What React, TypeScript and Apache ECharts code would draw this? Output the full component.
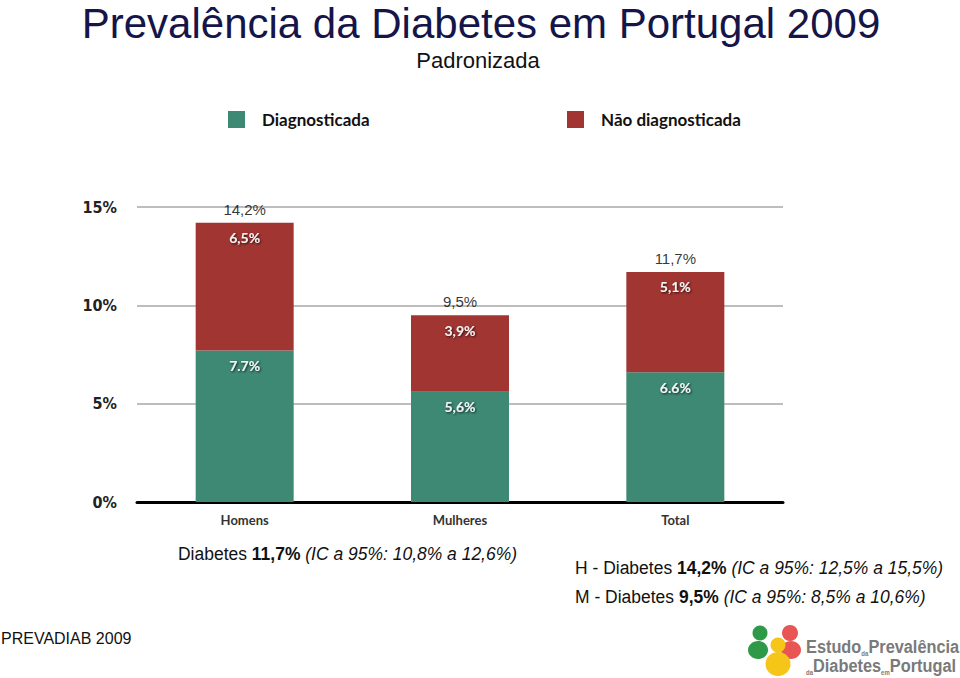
import React, { useEffect, useRef } from "react";
import * as echarts from "echarts";

const categories = ["Homens", "Mulheres", "Total"];
const diagnosticada = [7.7, 5.6, 6.6];
const naoDiagnosticada = [6.5, 3.9, 5.1];
const totals = [14.2, 9.5, 11.7];
const diagLabels = ["7.7%", "5,6%", "6.6%"];
const naoLabels = ["6,5%", "3,9%", "5,1%"];
const totalLabels = ["14,2%", "9,5%", "11,7%"];
const yTicks = [0, 5, 10, 15];

const GREEN = "#3d8973";
const RED = "#a13532";
const ARIAL = "'Liberation Sans', Arial, sans-serif";
const HUMAN = "Lato, 'Open Sans', sans-serif";

const infoRich = {
  n: { fontFamily: ARIAL, fontSize: 19, fill: "#111" },
  b: { fontFamily: ARIAL, fontSize: 19, fontWeight: "bold", fill: "#111" },
  i: { fontFamily: ARIAL, fontSize: 19, fontStyle: "italic", fill: "#111" },
};
const logoRich = {
  L: { fontFamily: ARIAL, fontSize: 19, fontWeight: "bold", fill: "#7a7a7a", verticalAlign: "bottom" },
  s: { fontFamily: ARIAL, fontSize: 7, fontWeight: "bold", fill: "#7a7a7a", verticalAlign: "bottom" },
};

export default function App() {
  const ref = useRef<HTMLDivElement>(null);
  useEffect(() => {
    if (!ref.current) return;
    const chart = echarts.init(ref.current, null, { renderer: "svg" });
    const innerLabel = (labels: string[]) => ({
      show: true,
      position: "insideTop",
      distance: 8,
      color: "#f4f4f4",
      fontFamily: HUMAN,
      fontWeight: "bold",
      fontSize: 14,
      textShadowColor: "rgba(0,0,0,0.75)",
      textShadowBlur: 2,
      textShadowOffsetX: 1,
      textShadowOffsetY: 1,
      formatter: (p: any) => labels[p.dataIndex],
    });
    const legendText = { fontFamily: HUMAN, fontWeight: "bold", fontSize: 17, color: "#111", padding: [0, 0, 0, 12] };
    chart.setOption({
      animation: false,
      backgroundColor: "#ffffff",
      legend: [
        { left: 228, top: 111, padding: 0, itemWidth: 17, itemHeight: 17, icon: "rect", data: ["Diagnosticada"], textStyle: legendText },
        { left: 567, top: 111, padding: 0, itemWidth: 17, itemHeight: 17, icon: "rect", data: ["Não diagnosticada"], textStyle: legendText },
      ],
      grid: { left: 137, right: 177, top: 207, bottom: 176 },
      xAxis: {
        type: "category",
        data: categories,
        axisLine: { lineStyle: { color: "#000", width: 3 } },
        axisTick: { show: false },
        axisLabel: { fontFamily: HUMAN, fontWeight: "bold", fontSize: 13, color: "#333", margin: 11 },
      },
      yAxis: {
        type: "value",
        min: yTicks[0],
        max: yTicks[yTicks.length - 1],
        interval: 5,
        axisLine: { show: false },
        axisTick: { show: false },
        axisLabel: {
          formatter: "{value}%",
          fontFamily: "'DejaVu Sans Condensed', 'DejaVu Sans', sans-serif",
          fontWeight: "bold",
          fontSize: 16,
          color: "#222",
          margin: 20,
        },
        splitLine: { lineStyle: { color: "#bdbdbd", width: 2 } },
      },
      series: [
        {
          name: "Diagnosticada",
          type: "bar",
          stack: "a",
          barWidth: 98,
          data: diagnosticada,
          itemStyle: { color: GREEN },
          label: innerLabel(diagLabels),
        },
        {
          name: "Não diagnosticada",
          type: "bar",
          stack: "a",
          barWidth: 98,
          data: naoDiagnosticada,
          itemStyle: { color: RED },
          label: innerLabel(naoLabels),
        },
        {
          name: "Total",
          type: "scatter",
          symbolSize: 0,
          data: totals,
          silent: true,
          label: {
            show: true,
            position: "top",
            distance: 6,
            color: "#000",
            fontFamily: ARIAL,
            fontSize: 15,
            formatter: (p: any) => totalLabels[p.dataIndex],
          },
        },
      ],
      graphic: [
        {
          type: "text",
          x: 481,
          y: 23,
          style: {
            text: "Prevalência da Diabetes em Portugal 2009",
            fill: "#15154a",
            font: `42px ${ARIAL}`,
            textAlign: "center",
            textVerticalAlign: "middle",
          },
        },
        {
          type: "text",
          x: 478,
          y: 60,
          style: {
            text: "Padronizada",
            fill: "#111",
            font: `22px ${ARIAL}`,
            textAlign: "center",
            textVerticalAlign: "middle",
          },
        },
        {
          type: "text",
          x: 178,
          y: 553,
          scaleX: 0.92,
          style: { text: "{n|Diabetes }{b|11,7%}{i| (IC a 95%: 10,8% a 12,6%)}", textVerticalAlign: "middle", rich: infoRich },
        },
        {
          type: "text",
          x: 575,
          y: 567,
          scaleX: 0.92,
          style: { text: "{n|H - Diabetes }{b|14,2%}{i| (IC a 95%: 12,5% a 15,5%)}", textVerticalAlign: "middle", rich: infoRich },
        },
        {
          type: "text",
          x: 575,
          y: 596,
          scaleX: 0.92,
          style: { text: "{n|M - Diabetes }{b|9,5%}{i| (IC a 95%: 8,5% a 10,6%)}", textVerticalAlign: "middle", rich: infoRich },
        },
        {
          type: "text",
          x: 1,
          y: 638,
          style: { text: "PREVADIAB 2009", fill: "#111", font: `16px ${ARIAL}`, textVerticalAlign: "middle" },
        },
        // logo
        { type: "ellipse", shape: { cx: 758, cy: 650, rx: 10, ry: 9 }, style: { fill: "#2e9a48" } },
        { type: "circle", shape: { cx: 760, cy: 633, r: 7.5 }, style: { fill: "#2e9a48" } },
        { type: "ellipse", shape: { cx: 791, cy: 650, rx: 10, ry: 9 }, style: { fill: "#e85552" } },
        { type: "circle", shape: { cx: 790, cy: 633, r: 8 }, style: { fill: "#e85552" } },
        { type: "ellipse", shape: { cx: 778, cy: 664, rx: 12.5, ry: 12 }, style: { fill: "#f5c518" } },
        { type: "circle", shape: { cx: 778, cy: 645, r: 7.5 }, style: { fill: "#f5c518" } },
        {
          type: "text",
          x: 806,
          y: 647,
          scaleX: 0.86,
          style: { text: "{L|Estudo}{s|da}{L|Prevalência}", textVerticalAlign: "middle", rich: logoRich },
        },
        {
          type: "text",
          x: 806,
          y: 666,
          scaleX: 0.86,
          style: { text: "{s|da}{L|Diabetes}{s|em}{L|Portugal}", textVerticalAlign: "middle", rich: logoRich },
        },
      ],
    });
    return () => chart.dispose();
  }, []);
  return (
    <div
      ref={ref}
      style={{ position: "absolute", left: 0, top: 0, width: 960, height: 678, background: "#fff" }}
    />
  );
}
